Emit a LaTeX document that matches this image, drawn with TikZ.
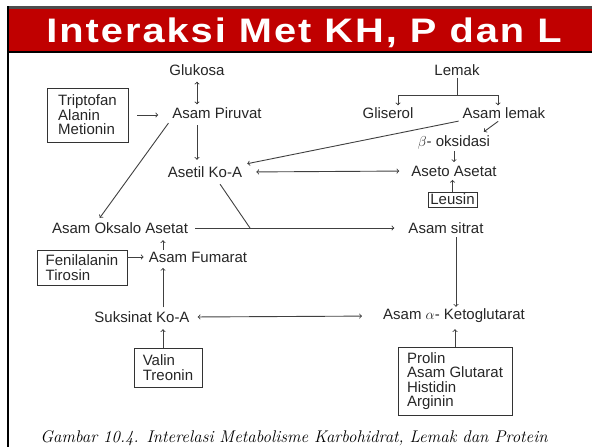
\documentclass[tikz,border=0pt]{standalone}
\usepackage{fontspec}
\usepackage{xcolor}
\usetikzlibrary{shapes,arrows}
\newfontfamily\bodyfont{Liberation Sans}
\newfontfamily\titlefont[LetterSpace=5]{Liberation Sans}
\definecolor{titlered}{RGB}{192,0,0}

\begin{document}
\begin{tikzpicture}[x=1pt,y=-1pt]
    % Define block styles
    \tikzstyle{metab} = [inner sep=2pt, text=black!85, font=\bodyfont\fontsize{15}{14.5}\selectfont]
    \tikzstyle{aminobox} = [metab, rectangle, draw=black!80, line width=0.9pt, align=left]
    \tikzstyle{arrow} = [line width=0.9pt, draw=black!75, ->, >=to]
    \tikzstyle{darrow} = [line width=0.9pt, draw=black!75, <->, >=to]
    \tikzstyle{noarrow} = [line width=0.9pt, draw=black!75]

    % Frame and title bar
    \useasboundingbox (0,0) rectangle (592,447);
    \fill [titlered] (8,7) rectangle (592,52);
    \draw [line width=2.5pt, black!70] (7,7.5) -- (592,7.5);
    \draw [line width=2.5pt] (7,52) -- (592,52);
    \draw [line width=2.5pt] (8,6) -- (8,447);
    \node (title) [text=white, font=\titlefont\bfseries\fontsize{34}{36}\selectfont] at (304,33) {\scalebox{1.17}[1]{Interaksi Met KH, P dan L}};

    % Draw nodes
    \node (glukosa) [metab] at (197,70) {Glukosa};
    \node (piruvat) [metab] at (217,113) {Asam Piruvat};
    \node (triptofan) [aminobox, minimum width=81, minimum height=54] at (87.5,115) {Triptofan\\Alanin\\Metionin};
    \node (asetil) [metab] at (205,172) {Asetil Ko-A};
    \node (oksalo) [metab] at (120,228) {Asam Oksalo Asetat};
    \node (fumarat) [metab] at (198,257) {Asam Fumarat};
    \node (fenil) [aminobox, minimum width=90, minimum height=35] at (82,267.5) {Fenilalanin\\Tirosin};
    \node (suksinat) [metab] at (142,317) {Suksinat Ko-A};
    \node (valin) [aminobox, minimum width=68, minimum height=39] at (168,367.5) {Valin\\Treonin};
    \node (lemak) [metab] at (457,70) {Lemak};
    \node (gliserol) [metab] at (388,113) {Gliserol};
    \node (asamlemak) [metab] at (504,113) {Asam lemak};
    \node (beta) [metab] at (454,142) {$\beta$- oksidasi};
    \node (aseto) [metab] at (454,171) {Aseto Asetat};
    \node (leusin) [aminobox, inner sep=1pt, minimum width=49, minimum height=15] at (452.5,199.5) {Leusin};
    \node (sitrat) [metab] at (446,228) {Asam sitrat};
    \node (keto) [metab] at (454,316) {Asam $\alpha$- Ketoglutarat};
    \node (prolin) [aminobox, minimum width=114, minimum height=68] at (455,381) {Prolin\\Asam Glutarat\\Histidin\\Arginin};
    \node (caption) [font=\fontsize{16.9}{19}\selectfont\itshape] at (294,438) {Gambar 10.4. Interelasi Metabolisme Karbohidrat, Lemak dan Protein};
    \coordinate (split) at (457,95);
    \coordinate (join) at (250,228);

    % Draw edges
    \draw [darrow, shorten <=4pt, shorten >=1pt] (glukosa.south) -- (glukosa.south |- piruvat.north);
    \draw [arrow, shorten <=9pt, shorten >=12pt] (triptofan.east) -- (triptofan.east -| piruvat.west);
    \draw [arrow, shorten <=4.5pt, shorten >=4.5pt] (glukosa.south |- piruvat.south) -- (glukosa.south |- asetil.north);
    \draw [arrow, shorten <=3pt, shorten >=3pt] (piruvat.south west) -- ([xshift=-22pt]oksalo.north);
    \draw [arrow, shorten <=2pt, shorten >=3pt] (asamlemak.south west) -- (asetil.north east);
    \draw [darrow, shorten <=12pt, shorten >=10pt] (asetil.east) -- (aseto.west);
    \draw [noarrow] (lemak.south) -- (split);
    \draw [arrow] (split) -| ([xshift=10pt]gliserol.north);
    \draw [arrow] (split) -| ([xshift=-6pt]asamlemak.north);
    \draw [arrow, shorten <=1pt, shorten >=2pt] ([xshift=-5pt]asamlemak.south) -- ([xshift=-10pt]beta.north east);
    \draw [arrow, shorten >=1.5pt] (beta.south) -- (aseto.north);
    \draw [arrow, shorten >=1.5pt] (leusin.north) -- (leusin.north |- aseto.south);
    \draw [arrow, shorten <=5pt, shorten >=12pt] (oksalo.east) -- (sitrat.west);
    \draw [noarrow, shorten <=5.5pt] ([xshift=12pt]asetil.south) -- (join);
    \draw [arrow, shorten <=1.5pt] ([xshift=10pt]sitrat.south) -- ([xshift=10pt]sitrat.south |- keto.north);
    \draw [arrow, shorten >=4.5pt] ([xshift=-35pt]fumarat.north) -- ([xshift=-35pt]fumarat.north |- oksalo.south);
    \draw [arrow, shorten >=3pt] (fenil.east |- fumarat.west) -- (fumarat.west);
    \draw [arrow, shorten <=2pt, shorten >=3.5pt] ([xshift=21pt]suksinat.north) -- ([xshift=21pt]suksinat.north |- fumarat.south);
    \draw [arrow, shorten >=4.5pt] ([xshift=-5pt]valin.north) -- ([xshift=-5pt]valin.north |- suksinat.south);
    \draw [darrow, shorten <=6pt, shorten >=19pt] (suksinat.east) -- (keto.west);
    \draw [arrow, shorten >=4pt] (prolin.north) -- (prolin.north |- keto.south);

\end{tikzpicture}
\end{document}
